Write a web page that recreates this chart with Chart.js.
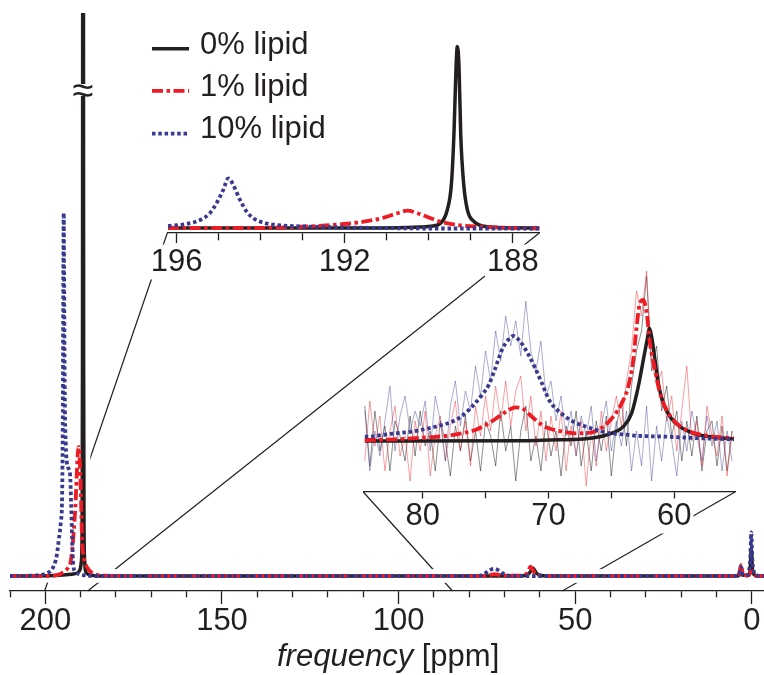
<!DOCTYPE html>
<html>
<head>
<meta charset="utf-8">
<script src="https://cdn.jsdelivr.net/npm/chart.js@4"></script>
<style>
  body { margin: 0; background: #fff; }
  #wrap { position: relative; width: 764px; height: 675px; overflow: hidden;
          font-family: "Liberation Sans", Arial, sans-serif; color: #231f20; }
  canvas { position: absolute; }
  #main { left: 0; top: 0; }
  #zoomA { left: 140px; top: 30px; }
  #zoomB { left: 340px; top: 250px; }
  .legend-row { position: absolute; left: 151.7px; height: 36px; width: 220px;
                font-size: 31px; line-height: 36px; white-space: nowrap; }
  .legend-row svg { position: absolute; left: 0; top: 0; }
  .legend-row span { position: absolute; left: 48.3px; top: 0; }
  #xtitle { position: absolute; left: 277px; top: 638.2px; font-size: 31px; line-height: 36px; white-space: nowrap; }
  #brk { position: absolute; left: 69px; top: 84px; width: 28px; height: 12px; background: #fff;
         font-size: 38px; line-height: 12px; text-align: center; }
</style>
</head>
<body>
<div id="wrap">
  <canvas id="main" width="764" height="675"></canvas>
  <canvas id="zoomA" width="420" height="255"></canvas>
  <canvas id="zoomB" width="420" height="290"></canvas>
  <div id="brk">≈</div>
  <div id="legend"></div>
  <div id="xtitle"><i>frequency</i> [ppm]</div>
</div>
<script>
// series look
const seriesNames = ["0% lipid", "1% lipid", "10% lipid"];
const seriesColors = ["#231f20", "#ed1c24", "#393a8f"];
const seriesDash = [[], [11, 3.5, 3.5, 3.5], [3.5, 2.8]];
const seriesWidth = [3.5, 3.8, 3.8];
const noiseColors = ["rgba(35,31,32,0.5)", "rgba(237,28,36,0.42)", "rgba(57,58,143,0.42)"];
const axisColor = "#231f20";

// main spectrum (intensity scaled so the 10% lipid carbonyl peak = 1)
const mainTicks = [0, 10, 20, 30, 40, 50, 60, 70, 80, 90, 100, 110, 120, 130, 140, 150, 160, 170, 180, 190, 200, 210];
const mainLabels = [0, 50, 100, 150, 200];

const mainPpmBlack = [210, 200, 195, 192.5, 191.0, 190.2, 189.8, 189.6, 189.48, 189.32, 189.16, 189.04, 188.85, 188.7, 188.2, 187.6, 186, 180,
  66, 64, 63, 62.0, 61.0, 60, 58, 5, 3.6, 3.1, 2.6, 1.0, 0.5, 0.2, -0.1, -0.6, -1.5, -3.4];
const mainIntBlack = [0, 0.001, 0.003, 0.005, 0.008, 0.017, 0.04, 0.12, 0.6, 3.62, 0.6, 0.12, 0.04, 0.017, 0.007, 0.003, 0.001, 0,
  0, 0.002, 0.008, 0.022, 0.008, 0.002, 0, 0, 0.002, 0.016, 0.002, 0.004, 0.02, 0.075, 0.02, 0.004, 0, 0];

const mainPpmRed = [210, 200, 196.5, 195.3, 194.2, 193.4, 192.9, 192.4, 192.0, 191.5, 191.1, 190.8, 190.55, 190.3, 190.0, 189.6, 189.16, 188.5,
  187.7, 186.5, 185.4, 183, 175, 76, 74, 72.9, 71.5, 70, 65, 64, 63.3, 62.7, 62.1, 61.3, 60.2, 58, 5, 3.7, 3.1, 2.5, 1.2, 0.6, 0.2, -0.2, -0.8, -2, -3.4];
const mainIntRed = [0, 0, 0.003, 0.008, 0.015, 0.025, 0.036, 0.07, 0.118, 0.19, 0.28, 0.34, 0.356, 0.33, 0.25, 0.099, 0.053, 0.03,
  0.017, 0.007, 0.003, 0.001, 0, 0, 0.003, 0.005, 0.003, 0.001, 0.001, 0.004, 0.014, 0.026, 0.018, 0.006, 0.002, 0, 0, 0.004, 0.03, 0.004, 0.001, 0.006, 0.022, 0.006, 0.001, 0, 0];

const mainPpmBlue = [210, 202, 200, 198.5, 197.7, 196.8, 196.2, 195.6, 195.25, 195.05, 194.9, 194.8, 194.7, 194.5, 194.2, 193.6, 193.0, 192.7,
  192.4, 192.1, 191.5, 190.5, 189, 186, 180, 78, 76.5, 75.5, 74.3, 72.9, 71.8, 70.5, 69.3, 67.5, 5, 3.7, 3.1, 2.5, 1.4, 0.9, 0.5, 0.2, -0.1, -0.5, -1.2, -3.4];
const mainIntBlue = [0, 0.002, 0.006, 0.014, 0.026, 0.055, 0.099, 0.15, 0.22, 0.45, 0.85, 1.0, 0.85, 0.5, 0.36, 0.3, 0.28, 0.2,
  0.1, 0.03, 0.012, 0.005, 0.002, 0, 0, 0, 0.002, 0.007, 0.016, 0.02, 0.016, 0.007, 0.002, 0, 0, 0.003, 0.025, 0.003, 0.002, 0.012, 0.045, 0.12, 0.045, 0.012, 0.002, 0];

// inset A: carbonyl region 196-188 ppm (same intensity units)
const zoomATicks = [188, 189, 190, 191, 192, 193, 194, 195, 196];
const zoomALabels = [188, 192, 196];

const zoomAPpmBlack = [196.2, 193, 191.55, 190.75, 190.35, 189.95, 189.72, 189.56, 189.46, 189.40, 189.35, 189.32, 189.28, 189.24, 189.17, 189.08, 188.92, 188.6, 187.97, 187.35];
const zoomAIntBlack = [0, 0, 0, 0.005, 0.015, 0.035, 0.094, 0.36, 0.89, 1.89, 3.23, 3.63, 3.23, 1.89, 0.89, 0.36, 0.126, 0.026, 0.005, 0];

const zoomAPpmRed = [196.2, 194.5, 193.69, 192.66, 192.02, 191.55, 191.07, 190.75, 190.51, 190.27, 189.95, 189.72, 189.32, 188.76, 187.97, 187.35];
const zoomAIntRed = [0, 0.002, 0.006, 0.04, 0.08, 0.126, 0.206, 0.294, 0.346, 0.294, 0.194, 0.126, 0.06, 0.026, 0, -0.01];

const zoomAPpmBlue = [196.2, 195.76, 195.44, 195.21, 195.05, 194.89, 194.77, 194.65, 194.49, 194.33, 194.17, 193.93, 193.53, 192.74, 191.55, 189.95, 187.35];
const zoomAIntBlue = [0.04, 0.08, 0.16, 0.294, 0.494, 0.76, 0.994, 0.86, 0.56, 0.326, 0.194, 0.106, 0.054, 0.026, 0.006, -0.01, -0.01];

// inset B: 85-55 ppm, fitted lines and raw traces (own intensity units)
const zoomBTicks = [60, 65, 70, 75, 80];
const zoomBLabels = [60, 70, 80];

const zoomBPpmBlack = [84.6, 72, 69.88, 67.23, 65.91, 64.85, 64.05, 63.39, 62.86, 62.46, 62.11, 61.99, 61.80, 61.53, 61.27, 60.87, 60.34, 59.55, 58.49, 57.16, 55.25];
const zoomBIntBlack = [0, 0.003, 0.01, 0.02, 0.043, 0.083, 0.143, 0.277, 0.543, 0.81, 1.043, 1.127, 1.043, 0.81, 0.577, 0.377, 0.243, 0.143, 0.077, 0.043, 0.02];

const zoomBPpmRed = [84.6, 84.29, 82.18, 79.52, 78.2, 76.88, 75.82, 74.75, 73.96, 73.16, 72.64, 72.11, 71.31, 70.52, 69.98, 68.82, 67.76, 66.70,
  65.64, 64.85, 64.18, 63.66, 63.26, 62.99, 62.73, 62.46, 62.19, 61.93, 61.53, 61.13, 60.60, 59.81, 58.74, 57.42, 55.25];
const zoomBIntRed = [0.01, 0.01, 0.017, 0.037, 0.05, 0.077, 0.11, 0.177, 0.243, 0.31, 0.337, 0.327, 0.243, 0.16, 0.127, 0.093, 0.077, 0.083,
  0.143, 0.243, 0.377, 0.543, 0.81, 1.143, 1.377, 1.41, 1.277, 0.977, 0.71, 0.477, 0.31, 0.177, 0.093, 0.053, 0.027];

const zoomBPpmBlue = [84.6, 84.29, 83.24, 82.18, 80.85, 79.52, 78.47, 77.67, 76.88, 76.08, 75.29, 74.75, 74.23, 73.70, 73.16, 72.77, 72.24, 71.57,
  71.05, 70.52, 69.9, 68.82, 68.03, 67.23, 66.17, 65.11, 64.05, 62.99, 60.60, 57.86, 55.25];
const zoomBIntBlue = [0.043, 0.043, 0.06, 0.077, 0.093, 0.127, 0.16, 0.193, 0.25, 0.343, 0.46, 0.56, 0.727, 0.91, 1.017, 1.05, 0.993, 0.86,
  0.727, 0.577, 0.4, 0.26, 0.193, 0.153, 0.11, 0.077, 0.067, 0.053, 0.043, 0.027, 0.017];

const noisePpm = [84.6, 84.2, 83.8, 83.4, 83.0, 82.6, 82.2, 81.8, 81.4, 81.0, 80.6, 80.2, 79.8, 79.4, 79.0, 78.6, 78.2, 77.8, 77.4, 77.0,
  76.6, 76.2, 75.8, 75.4, 75.0, 74.6, 74.2, 73.8, 73.4, 73.0, 72.6, 72.2, 71.8, 71.4, 71.0, 70.6, 70.2, 69.8, 69.4, 69.0,
  68.6, 68.2, 67.8, 67.4, 67.0, 66.6, 66.2, 65.8, 65.4, 65.0, 64.6, 64.2, 63.8, 63.4, 63.0, 62.6, 62.2, 61.8, 61.4, 61.0,
  60.6, 60.2, 59.8, 59.4, 59.0, 58.6, 58.2, 57.8, 57.4, 57.0, 56.6, 56.2, 55.8, 55.4];
const noiseBlack = [0.35, -0.25, 0.3, -0.1, 0.15, -0.3, 0.2, 0.05, -0.2, 0.25, -0.15, 0.3, -0.05, 0.1, -0.3, 0.2, 0.0, -0.35, 0.15, -0.1,
  0.25, -0.2, 0.1, -0.3, 0.2, 0.05, -0.25, 0.3, -0.1, 0.15, -0.4, 0.1, 0.35, -0.2, 0.05, -0.3, 0.2, -0.15, 0.1, -0.35,
  0.15, -0.05, 0.3, -0.25, 0.1, -0.3, 0.2, -0.1, 0.25, -0.35, 0.15, 0.4, -0.05, 0.55, 0.9, 1.1, 1.65, 0.7, 0.95, 0.3,
  0.55, 0.05, 0.3, -0.2, 0.2, -0.15, 0.25, -0.3, 0.1, 0.2, -0.25, 0.15, -0.3, 0.1];
const noiseRed = [-0.2, 0.4, -0.05, 0.25, -0.3, 0.1, 0.35, -0.15, 0.05, -0.4, 0.2, -0.1, 0.3, -0.35, 0.05, 0.25, -0.2, 0.15, 0.4, -0.1,
  0.2, -0.25, 0.35, 0.05, 0.45, 0.1, 0.55, 0.2, 0.6, 0.15, 0.5, 0.65, 0.1, 0.45, -0.05, 0.3, -0.2, 0.25, -0.1, 0.3,
  -0.3, 0.15, -0.15, 0.2, -0.45, 0.1, -0.25, 0.3, -0.1, 0.2, 0.45, 0.15, 0.6, 0.9, 1.5, 1.25, 1.7, 0.8, 0.55, 0.7,
  0.2, 0.45, -0.1, 0.3, 0.75, 0.0, 0.2, -0.25, 0.35, 0.05, -0.15, 0.25, -0.35, 0.1];
const noiseBlue = [0.3, -0.3, 0.1, -0.15, 0.2, 0.55, -0.1, 0.25, 0.45, 0.1, 0.3, 0.15, 0.4, -0.1, 0.45, 0.2, -0.2, 0.35, 0.6, 0.15,
  0.5, 0.3, 0.75, 0.45, 0.9, 0.6, 1.1, 0.8, 1.25, 0.95, 1.2, 0.85, 1.4, 0.9, 0.7, 1.0, 0.45, 0.6, 0.2, 0.45,
  0.05, 0.3, -0.15, 0.25, 0.05, 0.35, -0.2, 0.15, 0.4, -0.1, 0.2, -0.05, 0.3, -0.3, 0.1, -0.25, 0.35, -0.4, 0.15, -0.2,
  0.25, 0.0, -0.35, 0.2, -0.1, 0.3, 0.05, -0.2, 0.25, -0.05, 0.2, -0.3, 0.1, -0.2];

// where the inset axes meet the main axis (ppm): [left end, right end]
const zoomALink = [200.2, 188.0];
const zoomBLink = [84.75, 53.7];

Chart.defaults.font.family = "'Liberation Sans', Arial, sans-serif";
Chart.defaults.color = axisColor;

const pts = (xs, ys) => xs.map((x, i) => ({ x: x, y: ys[i] }));

function lineSet(i, xs, ys) {
  return {
    label: seriesNames[i], data: pts(xs, ys),
    borderColor: seriesColors[i], borderWidth: seriesWidth[i], borderDash: seriesDash[i],
    pointRadius: 0, fill: false, cubicInterpolationMode: "monotone", order: 3 - i
  };
}
function haloSet(xs, ys) {
  return { data: pts(xs, ys), borderColor: "#fff", borderWidth: 13, pointRadius: 0,
           fill: false, cubicInterpolationMode: "monotone", order: 10 };
}
function noiseSet(i, ys) {
  return { data: pts(noisePpm, ys), borderColor: noiseColors[i], borderWidth: 1, pointRadius: 0,
           fill: false, tension: 0, order: 6 - i };
}

function xAxis(o) {
  return {
    type: "linear", reverse: true, min: o.min, max: o.max,
    afterBuildTicks: s => { s.ticks = o.ticks.map(v => ({ value: v })); },
    afterFit: s => { s.height = o.height; },
    ticks: {
      autoSkip: false, maxRotation: 0, padding: o.pad, color: axisColor,
      font: { size: 31, lineHeight: 1 },
      callback: v => o.labels.includes(v) ? String(v) : "",
      showLabelBackdrop: ctx => !!o.backdrop && o.labels.includes(ctx.tick.value),
      backdropColor: "#fff", backdropPadding: 2
    },
    grid: {
      drawOnChartArea: false, tickLength: o.major, tickWidth: 1.3, tickColor: axisColor,
      tickBorderDash: ctx => o.labels.includes(ctx.tick.value) ? [] : [o.minor, 60]
    },
    border: { color: axisColor, width: 1.3 }
  };
}

function baseOptions(padding, x, ymin, ymax) {
  return {
    responsive: false, animation: false, events: [],
    layout: { padding: padding },
    plugins: { legend: { display: false }, tooltip: { enabled: false } },
    scales: { x: x, y: { display: false, min: ymin, max: ymax } }
  };
}

const zoomA = new Chart(document.getElementById("zoomA"), {
  type: "line",
  data: { datasets: [
    lineSet(0, zoomAPpmBlack, zoomAIntBlack),
    lineSet(1, zoomAPpmRed, zoomAIntRed),
    lineSet(2, zoomAPpmBlue, zoomAIntBlue)
  ] },
  options: baseOptions({ left: 27.3, right: 20.7, top: 10, bottom: 0 },
    xAxis({ min: 187.37, max: 196.22, ticks: zoomATicks, labels: zoomALabels, height: 52, pad: 3.5, major: 10, minor: 7, backdrop: true }),
    -0.1, 3.76)
});

const zoomB = new Chart(document.getElementById("zoomB"), {
  type: "line",
  data: { datasets: [
    lineSet(0, zoomBPpmBlack, zoomBIntBlack),
    lineSet(1, zoomBPpmRed, zoomBIntRed),
    lineSet(2, zoomBPpmBlue, zoomBIntBlue),
    noiseSet(0, noiseBlack),
    noiseSet(1, noiseRed),
    noiseSet(2, noiseBlue)
  ] },
  options: baseOptions({ left: 23.3, right: 25, top: 13, bottom: 0 },
    xAxis({ min: 55.17, max: 84.72, ticks: zoomBTicks, labels: zoomBLabels, height: 48, pad: -1.5, major: 10, minor: 6, backdrop: true }),
    -0.51, 1.78)
});

// thin lines tying each inset axis back to its region on the main axis
const linkPlugin = {
  id: "zoomLinks",
  beforeDatasetsDraw(chart) {
    const ctx = chart.ctx, sx = chart.scales.x, bottom = chart.chartArea.bottom;
    ctx.save();
    ctx.strokeStyle = axisColor;
    ctx.lineWidth = 1.2;
    [[zoomA, zoomALink], [zoomB, zoomBLink]].forEach(([inset, link]) => {
      const a = inset.chartArea, c = inset.canvas;
      const y0 = c.offsetTop + a.bottom;
      [[a.left, link[0]], [a.right, link[1]]].forEach(([ax, ppm]) => {
        ctx.beginPath();
        ctx.moveTo(c.offsetLeft + ax, y0);
        ctx.lineTo(sx.getPixelForValue(ppm), bottom);
        ctx.stroke();
      });
    });
    ctx.restore();
  }
};

new Chart(document.getElementById("main"), {
  type: "line",
  data: { datasets: [
    lineSet(0, mainPpmBlack, mainIntBlack),
    lineSet(1, mainPpmRed, mainIntRed),
    lineSet(2, mainPpmBlue, mainIntBlue),
    haloSet(mainPpmBlack, mainIntBlack),
    haloSet(mainPpmRed, mainIntRed),
    haloSet(mainPpmBlue, mainIntBlue)
  ] },
  options: baseOptions({ left: 10, right: 0, top: 13, bottom: 0 },
    xAxis({ min: -3.4, max: 210, ticks: mainTicks, labels: mainLabels, height: 84, pad: 2.2, major: 13, minor: 6, backdrop: false }),
    -0.0413, 1.551),
  plugins: [linkPlugin]
});

// legend
const legendRowTop = [26.2, 67.9, 109.6];
const legendLineY = [22.8, 22.8, 23.7];
const legend = document.getElementById("legend");
seriesNames.forEach((name, i) => {
  const row = document.createElement("div");
  row.className = "legend-row";
  row.style.top = legendRowTop[i] + "px";
  row.innerHTML = '<svg width="38" height="36"><line x1="0" x2="37" y1="' + legendLineY[i] + '" y2="' + legendLineY[i] +
    '" stroke="' + seriesColors[i] + '" stroke-width="' + seriesWidth[i] + '" stroke-dasharray="' + (seriesDash[i].join(" ") || "none") +
    '"/></svg><span>' + name + "</span>";
  legend.appendChild(row);
});
</script>
</body>
</html>
